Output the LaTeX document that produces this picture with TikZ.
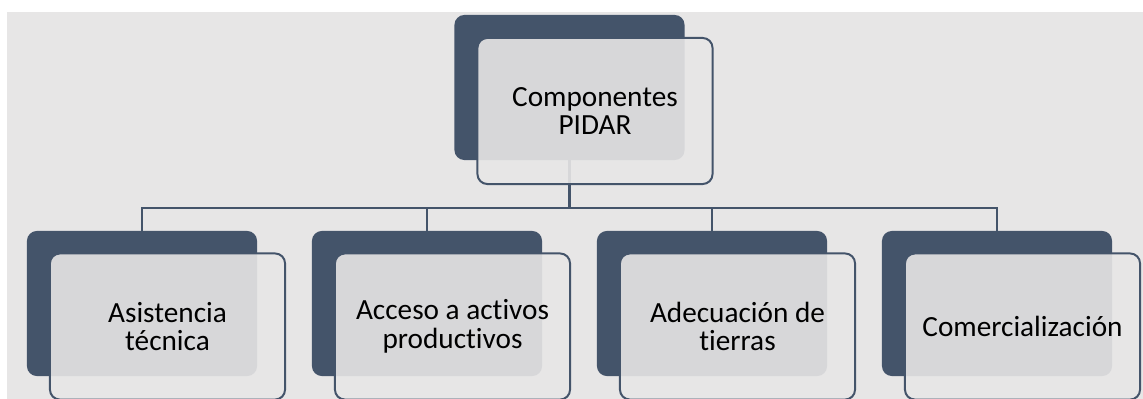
\documentclass[tikz,border=0pt]{standalone}
\usepackage{fontspec}
\setmainfont[Ligatures=NoCommon]{Carlito}
\usepackage{tikz}
\usetikzlibrary{positioning}
\definecolor{slate}{HTML}{44546A}
\definecolor{paper}{HTML}{E7E6E6}

\tikzset{
  backbox/.style={fill=slate,rounded corners=7pt,minimum width=5.75cm,minimum height=3.625cm,inner sep=0pt,outer sep=0pt},
  frontbox/.style={draw=slate,line width=1.4pt,fill=paper,fill opacity=0.9,text opacity=1,rounded corners=7pt,
    minimum width=5.875cm,minimum height=3.65cm,inner sep=0pt,outer sep=0pt,align=center,
    font=\fontsize{20.8}{20.5}\selectfont},
  link/.style={draw=slate,line width=1.8pt}
}

\begin{document}
\begin{tikzpicture}[x=0.025cm,y=-0.025cm]
\useasboundingbox (0,0) rectangle (1143,399);
\fill[paper] (7,12) rectangle (1143,399);

% dark boxes
\node[backbox] (pidar) at (569.5,87.5) {};
\node[backbox] (asis) at (142,303.5) {};
\node[backbox] (acceso) at (427,303.5) {};
\node[backbox] (adec) at (712,303.5) {};
\node[backbox] (comer) at (997,303.5) {};

% connectors
\coordinate (bus) at (569.5,208);
\draw[link] (pidar.south) -- (bus);
\draw[link] (bus) -| (asis.north);
\draw[link] (bus) -| (acceso.north);
\draw[link] (bus) -| (adec.north);
\draw[link] (bus) -| (comer.north);

% text boxes
\node[frontbox] (pidarT) at (595,111) {Componentes\\PIDAR};
\node[frontbox] (asisT) at (167.5,326.5) {Asistencia\\técnica};
\node[frontbox] (accesoT) at (452.5,326.5) {Acceso a activos\\productivos};
\node[frontbox] (adecT) at (737.5,326.5) {Adecuación de\\tierras};
\node[frontbox] (comerT) at (1022.5,326.5) {Comercialización};
\end{tikzpicture}
\end{document}
